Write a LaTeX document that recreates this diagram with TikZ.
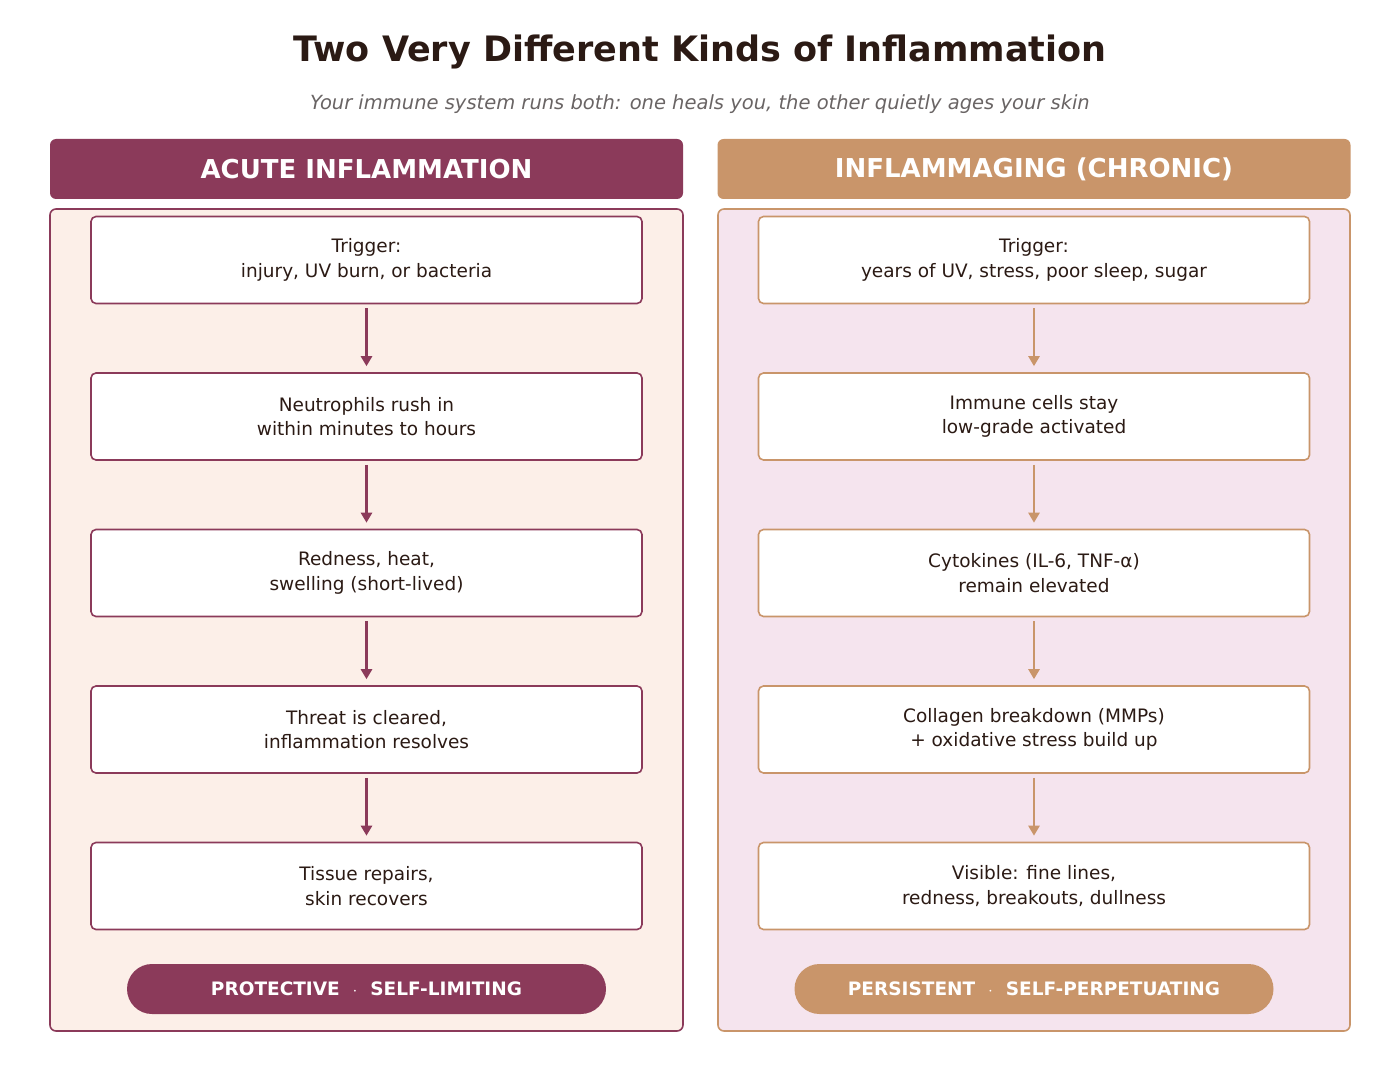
\documentclass[tikz,border=0pt]{standalone}
\usepackage{fontspec}
\setmainfont{DejaVu Sans}
\usetikzlibrary{arrows.meta,positioning}
\definecolor{acute}{RGB}{139, 58, 90}
\definecolor{chronic}{RGB}{201, 149, 106}
\definecolor{acutebg}{RGB}{252, 239, 232}
\definecolor{chronicbg}{RGB}{245, 228, 238}
\definecolor{ink}{RGB}{43, 26, 20}
\definecolor{subgray}{RGB}{105, 100, 100}
\begin{document}
\begin{tikzpicture}[x=1pt,y=-1pt,
  step/.style={draw=#1, line width=1.6pt, fill=white, rounded corners=5pt,
    minimum width=551pt, minimum height=87pt, align=center, text=ink,
    font=\fontsize{18.5}{24.5}\selectfont},
  flow/.style={draw=#1, line width=2.6pt, -{Triangle[length=10pt,width=11pt]}},
  header/.style={fill=#1, rounded corners=6pt, minimum width=633pt,
    minimum height=60pt, text=white, font=\bfseries\fontsize{26}{30}\selectfont},
  tag/.style={fill=#1, rounded corners=25pt, minimum width=479pt,
    minimum height=50pt, text=white, font=\bfseries\fontsize{18.5}{22}\selectfont}]
\useasboundingbox (0,0) rectangle (1400,1086);

% titles
\node[text=ink, font=\bfseries\fontsize{35}{40}\selectfont] (title) at (700,52) {Two Very Different Kinds of Inflammation};
\node[text=subgray, font=\itshape\fontsize{19.5}{24}\selectfont] (subtitle) at (700,104) {Your immune system runs both: one heals you, the other quietly ages your skin};

% panels
\draw[acute, line width=1.6pt, fill=acutebg, rounded corners=6pt] (50,209) rectangle (683,1031);
\draw[chronic, line width=1.6pt, fill=chronicbg, rounded corners=6pt] (718,209) rectangle (1350,1031);
\node[header=acute] (hA) at (366.5,169) {ACUTE INFLAMMATION};
\node[header=chronic] (hC) at (1034,169) {INFLAMMAGING (CHRONIC)};

% acute column
\node[step=acute] (a1) at (366.5,260) {Trigger:\\injury, UV burn, or bacteria};
\node[step=acute] (a2) at (366.5,416.5) {Neutrophils rush in\\within minutes to hours};
\node[step=acute] (a3) at (366.5,573) {Redness, heat,\\swelling (short-lived)};
\node[step=acute] (a4) at (366.5,729.5) {Threat is cleared,\\inflammation resolves};
\node[step=acute] (a5) at (366.5,886) {Tissue repairs,\\skin recovers};
\foreach \i/\j in {1/2,2/3,3/4,4/5}
  \draw[flow=acute] ([yshift=-4pt]a\i.south) -- ([yshift=6pt]a\j.north);
\node[tag=acute] (tA) at (366.5,989) {PROTECTIVE \ $\cdot$ \ SELF-LIMITING};

% chronic column
\node[step=chronic] (c1) at (1034,260) {Trigger:\\years of UV, stress, poor sleep, sugar};
\node[step=chronic] (c2) at (1034,416.5) {Immune cells stay\\low-grade activated};
\node[step=chronic] (c3) at (1034,573) {Cytokines (IL-6, TNF-α)\\remain elevated};
\node[step=chronic] (c4) at (1034,729.5) {Collagen breakdown (MMPs)\\+ oxidative stress build up};
\node[step=chronic] (c5) at (1034,886) {Visible: fine lines,\\redness, breakouts, dullness};
\foreach \i/\j in {1/2,2/3,3/4,4/5}
  \draw[flow=chronic] ([yshift=-4pt]c\i.south) -- ([yshift=6pt]c\j.north);
\node[tag=chronic] (tC) at (1034,989) {PERSISTENT \ $\cdot$ \ SELF-PERPETUATING};
\end{tikzpicture}
\end{document}
